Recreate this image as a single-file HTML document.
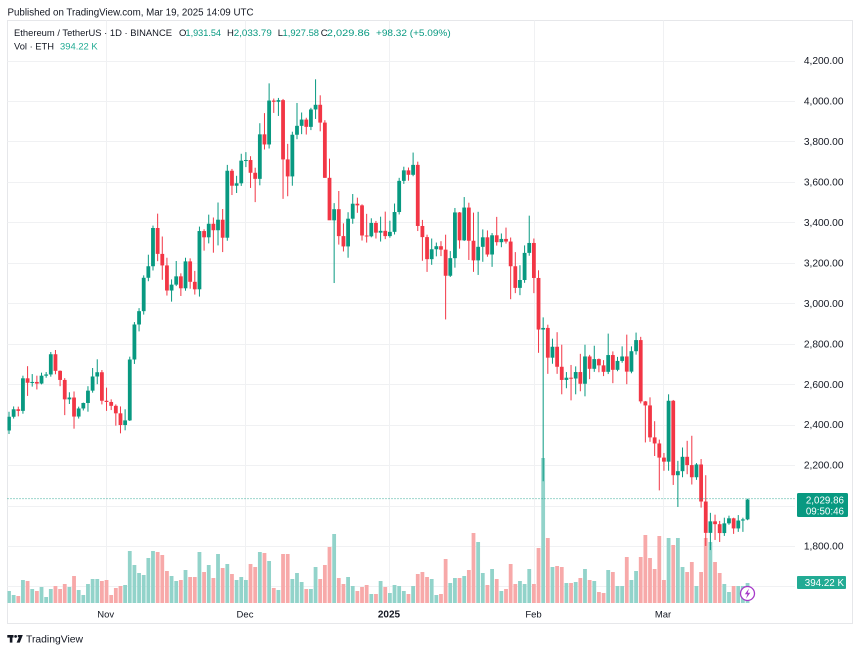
<!DOCTYPE html>
<html>
<head>
<meta charset="utf-8">
<style>
  html,body{margin:0;padding:0;background:#fff;}
  body{width:860px;height:652px;overflow:hidden;}
  svg{display:block;font-family:"Liberation Sans",Arial,sans-serif;}
</style>
</head>
<body>
<svg id="c" width="860" height="652" viewBox="0 0 860 652" xmlns="http://www.w3.org/2000/svg">
  <rect x="0" y="0" width="860" height="652" fill="#ffffff"/>
  <!-- header -->
  <text x="7.5" y="15.3" font-size="9.7" fill="#131722" textLength="246" lengthAdjust="spacingAndGlyphs">Published on TradingView.com, Mar 19, 2025 14:09 UTC</text>

  <!-- frame -->
  <rect x="7.5" y="20.5" width="845" height="603" fill="none" stroke="#e6e7ea" stroke-width="1"/>

  <g id="grid"></g>
  <g id="vol"></g>
  <g id="candles" clip-path="url(#pane)"></g>
  <defs>
    <clipPath id="pane"><rect x="7.5" y="20.5" width="788" height="583"/></clipPath>
  </defs>

  <!-- legend -->
  <g font-size="9.5">
    <text x="14" y="36" fill="#131722" textLength="158" lengthAdjust="spacingAndGlyphs">Ethereum / TetherUS · 1D · BINANCE</text>
    <text x="179" y="36" fill="#131722">O</text>
    <text x="185.5" y="36" fill="#089981" textLength="35.5" lengthAdjust="spacingAndGlyphs">1,931.54</text>
    <text x="227" y="36" fill="#131722">H</text>
    <text x="233.8" y="36" fill="#089981" textLength="38" lengthAdjust="spacingAndGlyphs">2,033.79</text>
    <text x="277.7" y="36" fill="#131722">L</text>
    <text x="282.5" y="36" fill="#089981" textLength="36.5" lengthAdjust="spacingAndGlyphs">1,927.58</text>
    <text x="320.7" y="36" fill="#131722">C</text>
    <text x="326.8" y="36" fill="#089981" textLength="43" lengthAdjust="spacingAndGlyphs">2,029.86</text>
    <text x="376" y="36" fill="#089981" textLength="74.7" lengthAdjust="spacingAndGlyphs">+98.32 (+5.09%)</text>
    <text x="14" y="49.3" fill="#131722" textLength="40" lengthAdjust="spacingAndGlyphs">Vol · ETH</text>
    <text x="60" y="49.3" fill="#22ab94" textLength="37.7" lengthAdjust="spacingAndGlyphs">394.22 K</text>
  </g>

  <!-- price axis labels -->
  <g font-size="10.2" fill="#131722" text-anchor="end" id="plabels"></g>

  <!-- time axis labels -->
  <g font-size="9.5" fill="#131722" text-anchor="middle">
    <text x="105.7" y="617.5">Nov</text>
    <text x="245" y="617.5">Dec</text>
    <text x="389" y="617.5" font-weight="bold" font-size="10">2025</text>
    <text x="533.5" y="617.5">Feb</text>
    <text x="663" y="617.5">Mar</text>
  </g>

  <!-- last price dotted line -->
  <line x1="7.5" y1="498.6" x2="795" y2="498.6" stroke="#089981" stroke-width="1" stroke-dasharray="1,2" opacity="0.8"/>

  <!-- price label -->
  <rect x="797" y="493" width="51" height="24" rx="1.5" fill="#089981"/>
  <text x="844" y="503.3" font-size="9.8" fill="#ffffff" text-anchor="end">2,029.86</text>
  <text x="844" y="514.3" font-size="9.8" fill="#ffffff" text-anchor="end">09:50:46</text>

  <!-- volume label -->
  <rect x="797" y="576" width="49" height="13" rx="1" fill="#22ab94"/>
  <text x="844" y="585.8" font-size="9.8" fill="#ffffff" text-anchor="end">394.22 K</text>

  <!-- lightning icon -->
  <circle cx="747.5" cy="593.5" r="7" fill="#ffffff" stroke="#a63ac9" stroke-width="1.3"/>
  <polygon points="749,588.5 744.8,594.2 747.4,594.2 746,598.6 750.3,592.8 747.7,592.8" fill="#a63ac9"/>

  <!-- TradingView logo -->
  <g fill="#131722">
    <rect x="7.3" y="635" width="6.2" height="2.6"/>
    <rect x="9.8" y="635" width="2.6" height="7.6"/>
    <circle cx="15.6" cy="636.4" r="1.4"/>
    <polygon points="17.8,635 22.8,635 19.8,642.6 16.6,642.6 18.9,637.2 17.8,637.2"/>
    <text x="26" y="642.5" font-size="10" textLength="57" lengthAdjust="spacingAndGlyphs">TradingView</text>
  </g>
</svg>
<script>
(function(){
var D=[
[2371,2464,2354,2439],[2439,2490,2430,2476],[2476,2489,2441,2468],[2468,2642,2454,2629],[2629,2689,2542,2607],
[2607,2650,2588,2611],[2611,2642,2574,2603],[2603,2657,2599,2642],[2642,2660,2632,2648],[2648,2759,2637,2748],
[2748,2769,2649,2666],[2666,2668,2590,2621],[2621,2630,2447,2525],[2525,2560,2502,2534],[2534,2564,2380,2440],
[2440,2489,2430,2480],[2480,2509,2470,2507],[2507,2590,2464,2568],[2568,2680,2558,2638],[2638,2723,2600,2659],
[2659,2670,2500,2518],[2518,2583,2468,2512],[2512,2525,2472,2493],[2493,2500,2395,2456],[2456,2490,2357,2398],
[2398,2476,2372,2421],[2421,2736,2418,2722],[2722,2907,2700,2895],[2895,2976,2861,2961],[2961,3138,2944,3126],
[3126,3240,3109,3183],[3183,3384,3162,3372],[3372,3443,3208,3244],[3244,3330,3116,3187],[3187,3225,3038,3063],
[3063,3118,3008,3092],[3092,3209,3085,3133],[3133,3148,3036,3074],[3074,3225,3062,3207],[3207,3222,3072,3106],
[3106,3160,3043,3069],[3069,3379,3033,3357],[3357,3366,3260,3326],[3326,3438,3296,3393],[3393,3424,3250,3361],
[3361,3498,3286,3413],[3413,3466,3253,3324],[3324,3684,3309,3655],[3655,3664,3535,3581],[3581,3630,3545,3593],
[3593,3739,3580,3705],[3705,3747,3673,3708],[3708,3727,3570,3645],[3645,3670,3500,3615],[3615,3890,3583,3835],
[3835,3940,3760,3785],[3785,4087,3765,4002],[4002,4012,3941,3996],[3996,4015,3926,4004],[4004,4010,3516,3711],
[3711,3788,3529,3627],[3627,3848,3581,3833],[3833,3990,3811,3877],[3877,3943,3836,3908],[3908,3917,3834,3872],
[3872,3966,3856,3958],[3958,4107,3911,3981],[3981,4028,3850,3893],[3893,3905,3620,3620],[3620,3715,3413,3410],
[3410,3495,3100,3465],[3465,3555,3290,3332],[3332,3395,3256,3281],[3281,3450,3225,3418],[3418,3540,3393,3492],
[3492,3522,3447,3484],[3484,3489,3310,3335],[3335,3442,3300,3331],[3331,3420,3326,3397],[3397,3407,3320,3349],
[3349,3428,3305,3358],[3358,3453,3317,3332],[3332,3408,3324,3353],[3353,3493,3340,3451],[3451,3620,3439,3605],
[3605,3675,3590,3657],[3657,3671,3606,3635],[3635,3745,3628,3684],[3684,3700,3357,3382],[3382,3412,3210,3327],
[3327,3339,3155,3218],[3218,3320,3190,3267],[3267,3300,3232,3282],[3282,3307,3233,3265],[3265,3339,2920,3136],
[3136,3258,3130,3223],[3223,3471,3176,3449],[3449,3451,3270,3311],[3311,3525,3308,3473],[3473,3497,3214,3309],
[3309,3448,3155,3212],[3212,3452,3140,3279],[3279,3365,3205,3326],[3326,3360,3230,3241],[3241,3347,3180,3336],
[3336,3427,3285,3302],[3302,3345,3277,3318],[3318,3374,3295,3305],[3305,3325,3020,3183],[3183,3253,3050,3076],
[3076,3188,3040,3115],[3115,3286,3101,3249],[3249,3433,3235,3298],[3298,3320,3050,3125],[3125,3163,2755,2870],
[2870,2930,2120,2878],[2878,2894,2651,2731],[2731,2825,2701,2785],[2785,2857,2651,2686],[2686,2795,2550,2621],
[2621,2660,2580,2632],[2632,2695,2520,2628],[2628,2688,2550,2660],[2660,2750,2565,2602],[2602,2795,2540,2737],
[2737,2745,2625,2676],[2676,2790,2661,2724],[2724,2727,2659,2693],[2693,2719,2640,2661],[2661,2850,2650,2744],
[2744,2762,2605,2671],[2671,2735,2664,2715],[2715,2787,2706,2737],[2737,2845,2600,2662],[2662,2787,2654,2763],
[2763,2855,2746,2818],[2818,2834,2505,2515],[2515,2517,2312,2495],[2495,2535,2315,2337],[2337,2417,2245,2307],
[2307,2326,2075,2237],[2237,2260,2172,2217],[2217,2550,2172,2518],[2518,2522,2102,2150],[2150,2221,1993,2170],
[2170,2287,2140,2241],[2241,2320,2155,2200],[2200,2345,2104,2140],[2140,2210,2127,2203],[2203,2230,1990,2020],
[2020,2150,1800,1865],[1865,1964,1780,1922],[1922,1955,1830,1908],[1908,1924,1820,1864],[1864,1940,1850,1912],
[1912,1950,1905,1937],[1937,1940,1860,1887],[1887,1953,1870,1926],[1926,1940,1870,1931.54],[1931.54,2033.79,1927.58,2029.86]
];
var V=[12,8,7,23,22,14,12,16,6,14,17,14,19,16,27,13,8,19,24,24,22,23,8,15,17,18,52,38,30,28,45,52,51,48,32,27,22,23,33,26,26,51,31,38,25,49,35,39,29,23,26,23,39,36,51,50,42,15,13,49,49,24,30,21,14,14,36,24,38,56,69,25,19,26,17,12,16,18,9,9,22,16,10,18,17,12,9,17,29,31,26,24,8,9,44,20,25,25,27,33,70,61,30,18,34,24,12,14,39,19,22,19,34,19,55,145,65,36,37,36,20,20,21,25,34,23,22,11,10,33,31,17,17,46,23,32,46,68,45,34,67,23,65,58,65,36,31,41,17,31,65,61,41,30,19,11,17,17,17,20];
var NS="http://www.w3.org/2000/svg";
function el(t,a,p){var e=document.createElementNS(NS,t);for(var k in a)e.setAttribute(k,a[k]);p.appendChild(e);return e;}
function Y(p){return 60.5+(4200-p)*0.2023;}
var grid=document.getElementById('grid'),vol=document.getElementById('vol'),cg=document.getElementById('candles'),pl=document.getElementById('plabels');
// horizontal grid
for(var p=4200;p>=1600;p-=200){var y=Math.round(Y(p))+0.5;el('line',{x1:7.5,y1:y,x2:795,y2:y,stroke:'#f0f1f3','stroke-width':1},grid);}
// vertical grid
[105.7,245,389,533.5,663].forEach(function(x){var xx=Math.round(x)+0.5;el('line',{x1:xx,y1:20.5,x2:xx,y2:603,stroke:'#f0f1f3','stroke-width':1},grid);});
// price labels
[4200,4000,3800,3600,3400,3200,3000,2800,2600,2400,2200,1800].forEach(function(p){
  var t=el('text',{x:843.5,y:(Y(p)+3.6).toFixed(1)},pl);
  var s=p.toString();t.textContent=s.charAt(0)+','+s.slice(1)+'.00';
});
var W=3.8;
for(var i=0;i<D.length;i++){
  var d=D[i],x=9+i*4.645,up=d[3]>=d[0];
  var col=up?'#089981':'#F23645';
  var vc=up?'#92d3ca':'#f7a9a9';
  if(x>=7.5){
    var vx=Math.max(7.5,x-W/2);
    el('rect',{x:vx.toFixed(2),y:(603-V[i]).toFixed(1),width:(x+W/2-vx).toFixed(2),height:V[i],fill:vc},vol);
  }
  el('line',{x1:x.toFixed(2),y1:Y(d[1]).toFixed(2),x2:x.toFixed(2),y2:Y(d[2]).toFixed(2),stroke:col,'stroke-width':1},cg);
  var y1=Y(Math.max(d[0],d[3])),y2=Y(Math.min(d[0],d[3]));
  var h=Math.max(1,y2-y1);
  el('rect',{x:(x-W/2).toFixed(2),y:y1.toFixed(2),width:W,height:h.toFixed(2),fill:col},cg);
}
})();
</script>
</body>
</html>
